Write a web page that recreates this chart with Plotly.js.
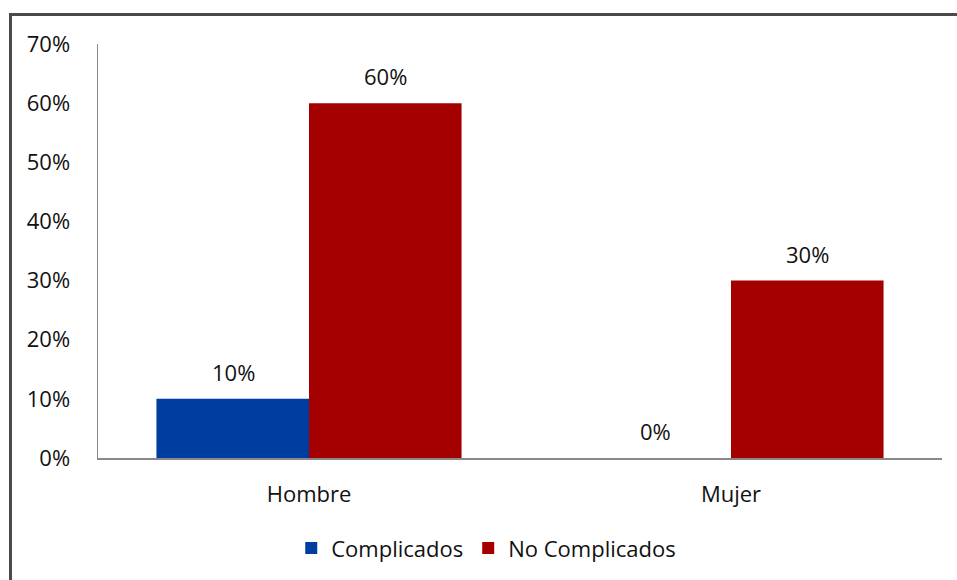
<!DOCTYPE html>
<html>
<head>
<meta charset="utf-8">
<script src="https://cdn.plot.ly/plotly-3.0.1.min.js"></script>
<style>
html,body{margin:0;padding:0;background:#fff;}
#wrap{position:relative;width:957px;height:580px;overflow:hidden;}
#chart{position:absolute;left:0;top:0;width:957px;height:580px;}
#frame{position:absolute;left:9px;top:13px;width:1000px;height:700px;border-top:3px solid #4a4a4a;border-left:3px solid #4a4a4a;pointer-events:none;}
</style>
</head>
<body>
<div id="wrap"><div id="chart"></div><div id="frame"></div></div>
<script>
var categories = ["Hombre", "Mujer"];
var seriesNames = ["Complicados", "No Complicados"];
var complicados = [0.10, 0.00];
var noComplicados = [0.60, 0.30];
var yTicks = [0, 0.1, 0.2, 0.3, 0.4, 0.5, 0.6, 0.7];
var yTickLabels = ["0%", "10%", "20%", "30%", "40%", "50%", "60%", "70%"];

var font = {family: "Open Sans, sans-serif", size: 22, color: "#111111"};

var traces = [
  {type: "bar", name: seriesNames[0], x: categories, y: complicados,
   marker: {color: "#003DA0", line: {width: 0}}, hoverinfo: "none"},
  {type: "bar", name: seriesNames[1], x: categories, y: noComplicados,
   marker: {color: "#A50000", line: {width: 0}}, hoverinfo: "none"}
];

var annotations = [];
var shifts = [-76, 76];
[complicados, noComplicados].forEach(function(arr, si){
  arr.forEach(function(v, ci){
    annotations.push({
      x: categories[ci], y: v, xref: "x", yref: "y",
      text: Math.round(v*100) + "%", showarrow: false,
      xshift: shifts[si], yshift: 27, font: font
    });
  });
});

var layout = {
  width: 957, height: 580,
  margin: {l: 98, r: 15, t: 44, b: 121},
  paper_bgcolor: "#ffffff", plot_bgcolor: "#ffffff",
  font: font,
  barmode: "group", bargap: 0.277, bargroupgap: 0,
  showlegend: true,
  legend: {orientation: "h", x: 0.46, xanchor: "center", y: -0.215, yanchor: "middle",
           font: font, itemwidth: 30, traceorder: "normal"},
  xaxis: {type: "category", showline: true, linecolor: "#898989", linewidth: 1.5,
          ticks: "", showgrid: false, zeroline: false, ticklabelstandoff: 16,
          tickfont: font, fixedrange: true},
  yaxis: {range: [0, 0.7], tickvals: yTicks, ticktext: yTickLabels,
          showline: true, linecolor: "#898989", linewidth: 1.5, ticks: "",
          showgrid: false, zeroline: false, ticklabelstandoff: 22,
          tickfont: font, fixedrange: true},
  annotations: annotations
};

Plotly.newPlot("chart", traces, layout, {staticPlot: true, displayModeBar: false});
</script>
</body>
</html>
